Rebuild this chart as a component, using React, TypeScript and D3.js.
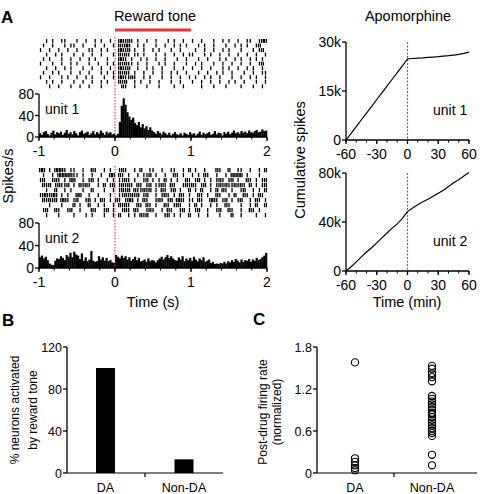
import React from 'react';
import * as d3 from 'd3';

const FONT = '"Liberation Sans", Arial, sans-serif';

// ---- panel A, left: rasters (one string per trial, 0.04 s per char; '|' = 1 spike, ':' = 2 spikes)
const unit1Raster = [
  '  | |  ||   |  |  | |  | ' + ' ::|:| |  |  |   | |  |  ' + '|  |   |  | |  |  ||  |::',
  ' |  |   | ||  |   |  |  |' + ' :|::  | |   |  |  | | | ' + '  | |  |   |  | | |  |: ',
  '|  |  |  |  |   ||  | |  ' + ' ::|: |  |  | |   |  |   ' + ' |  |  |  | |   |   | |:',
  '  |  | |   |  |  |  |   |' + ' :|:| || |   |  |  |  | |' + '|   | |  |  |  |  |  |  |',
  ' | |   |  |  |  | |   |  ' + ' ::| |  | |  |  |   |  | ' + '  |  |   | |  | |  | | | ',
  '|   |  |  | |   |  |  | |' + ' :|:|| |  |   | |  |   | ' + ' | |   |  |  |  |  |  |: ',
  '  |  |  | |   |  |  |  | ' + ' ::|:  |  | |  |   |  |  ' + '|  |  |   | |  |  | |  | ',
  ' |  | |   |  |  |   | | |' + ' :|:| |  |  |  |  | |  | ' + '  |  |  | |  |   |  |  ||',
  '|  |   | |  |  | |   |  |' + ' ::||:|  | |   |  |  |  |' + ' |  | |  |   |  |  | |  |',
  '  | |  |   |  |  |  | |  ' + ' :|:  | |  |  |   |  |   ' + '|  |  |  |  | |  |   |  |',
  '   |  |   |  |  |   |    ' + '  :|  |   |   |    |  |  ' + '   |   |   |    |   |  | ',
];

const unit2Raster = [
  ':: | :::| ||  |  :|  | | ' + ' |:|  | :  ||  |  ||  | : ' + '|  |   :|  :  ||  |  | :|',
  ' |  | :::::|| |  |  |  :: ' + ':| |  | ||: |  |  :| |  |' + ' | :|  |  | :::: |   |  :',
  '|:  |:| | ::  | |: |  | | ' + '||:| |  |: | | : | |  :| ' + '|: | | |:| |: |  :| | |: ',
  ' :|: |:||: | :|:|  | : |:' + ' |:|:| :| |: ||:| :|  |:|' + ':| |: | |:|:||:|:| : | |:',
  '  |  :  | |   |  :   |  |' + ' |:|: :||:|: | :| |: |  :' + ' | :  | : :| |  |:  | | :',
  '|::|:: | |  ::  |  |   | ' + ' ||:|:|: |:  | |:| | :| |' + '  :| |  :|  | :  :| | :| ',
  ' :|:|: ::| |:  |: | :| | ' + ':| |:: | :|  |:| |: ::| |' + '| :|  ::| |: | |:  | :| |',
  '   |   |   : |  :  | |  |' + ' :|:|  :| :| |  :| |:|  |' + ' : |  | |  :|   |  | :  :',
  ' |:  :|  |:  |   :|  |: |' + '  |:| :|  |:|  | :|  |: |' + ' |:  |  |:  :|  |  :| |  ',
  '  |   |    |   | |   |  |' + ' :  | | :|:  |  |: | |  :' + '  |  |   |   :  |    |  |',
];

// ---- peri-stimulus histograms, spikes/s, 0.025 s bins from -1 to 2 s
const histBin = 0.025;
const unit1Hist = [
  7, 4, 9, 11, 6, 3, 8, 12, 5, 9, 7, 10, 4, 8, 13, 6, 9, 5, 11, 7, 3, 9, 12, 6, 8, 10, 4, 7, 11, 5, 9, 6, 12, 8, 4, 10, 7, 9, 5, 6,
  3, 6, 28, 58, 72, 60, 46, 38, 32, 36, 26, 22, 28, 18, 24, 16, 20, 13, 18, 12,
  9, 6, 11, 8, 5, 10, 7, 4, 8, 3, 6, 9, 5, 4, 7, 3, 8, 6, 4, 9, 5, 7, 3, 6, 10, 4, 8, 5, 7, 9,
  4, 6, 11, 5, 8, 7, 3, 9, 6, 10, 5, 8, 12, 7, 9, 6, 11, 8, 10, 7, 12, 9, 8, 11, 13, 9, 10, 14, 11, 12,
];
const unit2Hist = [
  19, 22, 17, 20, 14, 8, 6, 5, 13, 17, 16, 21, 18, 14, 23, 20, 27, 19, 29, 24, 22, 16, 26, 13, 19, 12, 15, 30, 13, 11, 12, 21, 15, 19, 13, 18, 12, 14, 10, 9,
  23, 20, 17, 22, 18, 21, 15, 19, 13, 16, 20, 14, 18, 12, 13, 15, 11, 17, 12, 14, 13, 10, 14, 17, 20, 15, 19, 23, 18, 21, 17, 14, 13, 19, 15, 21, 12, 17, 14, 18,
  13, 20, 15, 12, 17, 14, 19, 11, 13, 15, 9, 11, 7, 8, 7, 9, 8, 11, 8, 12, 10, 14, 11, 16, 13, 10, 15, 11, 14, 13, 16, 11, 15, 13, 18, 14, 16, 19, 22, 27,
];
const timeTicks = [-1, 0, 1, 2];
const histTicks = [0, 40, 80];

// ---- panel A, right: cumulative spikes (every 5 min)
const minutes = [-60, -55, -50, -45, -40, -35, -30, -25, -20, -15, -10, -5, 0, 5, 10, 15, 20, 25, 30, 35, 40, 45, 50, 55, 60];
const unit1Cum = [0, 2050, 4100, 6200, 8250, 10300, 12400, 14450, 16500, 18600, 20650, 22700, 24800, 24950, 25050, 25150, 25300, 25400, 25500, 25650, 25800, 26000, 26200, 26500, 26900];
const unit2Cum = [0, 3500, 7500, 11500, 15500, 19000, 23000, 27000, 31000, 35000, 38500, 43000, 48500, 51500, 54000, 56500, 58500, 61000, 63500, 66000, 69000, 72000, 74500, 77500, 80500];
const minuteTicks = [-60, -30, 0, 30, 60];
const cum1Ticks = [0, 15000, 30000];
const cum2Ticks = [0, 40000, 80000];

// ---- panels B and C
const categories = ['DA', 'Non-DA'];
const activatedPct = [100, 13];
const pctTicks = [0, 40, 80, 120];
const daRates = [1.58, 0.21, 0.16, 0.11, 0.07, 0.04];
const nonDaRates = [1.53, 1.49, 1.43, 1.41, 1.37, 1.31, 1.1, 1.06, 1.02, 0.98, 0.94, 0.9, 0.86, 0.84, 0.8, 0.76, 0.72, 0.68, 0.64, 0.6, 0.57, 0.53, 0.26, 0.11];
const rateTicks = [0, 0.6, 1.2, 1.8];

const RED = '#e8343a';
const xTime = d3.scaleLinear().domain([-1, 2]).range([39, 267]);
const xMin = d3.scaleLinear().domain([-60, 60]).range([346, 469]);

function spikesOf(row: string) {
  const out: number[] = [];
  row.slice(0, 75).split('').forEach((c, i) => {
    const t = -1 + (i + 0.5) * 0.04;
    if (c === '|') out.push(t);
    if (c === ':') out.push(t - 0.012, t + 0.012);
  });
  return out;
}

function XAxis({ x, y, ticks, minor, fs = 14 }: any) {
  const [a, b] = x.range();
  return (
    <g>
      <line x1={a} x2={b} y1={y} y2={y} stroke="#000" strokeWidth={1.3} />
      {minor.map((d: number, i: number) => (
        <line key={'m' + i} x1={x(d)} x2={x(d)} y1={y} y2={y + 2.5} stroke="#000" strokeWidth={1} />
      ))}
      {ticks.map((d: number) => (
        <g key={d}>
          <line x1={x(d)} x2={x(d)} y1={y} y2={y + 4} stroke="#000" strokeWidth={1.3} />
          <text x={x(d)} y={y + 19} textAnchor="middle" fontSize={fs}>{d}</text>
        </g>
      ))}
    </g>
  );
}

function YAxis({ y, x, ticks, fmt, fs = 14 }: any) {
  const [a, b] = y.range();
  return (
    <g>
      <line x1={x} x2={x} y1={a} y2={b} stroke="#000" strokeWidth={1.3} />
      {ticks.map((d: number) => (
        <g key={d}>
          <line x1={x - 4} x2={x} y1={y(d)} y2={y(d)} stroke="#000" strokeWidth={1.3} />
          <text x={x - 5} y={y(d) + fs * 0.36} textAnchor="end" fontSize={fs}>{fmt(d)}</text>
        </g>
      ))}
    </g>
  );
}

function RasterHist({ raster, hist, rTop, rBottom, hTop, hBottom, label }: any) {
  const yRow = d3.scaleBand<number>().domain(d3.range(raster.length)).range([rTop, rBottom]);
  const yHist = d3.scaleLinear().domain([0, 80]).range([hBottom, hTop]);
  const minor = d3.range(-1, 2.001, 0.2);
  return (
    <g>
      {raster.map((row: string, r: number) =>
        spikesOf(row).map((t, i) => (
          <line key={r + '-' + i} x1={xTime(t)} x2={xTime(t)} y1={yRow(r)!} y2={yRow(r)! + yRow.bandwidth() * 0.85}
            stroke="#000" strokeWidth={1.3} />
        ))
      )}
      {hist.map((v: number, i: number) => {
        const t0 = -1 + i * histBin;
        return (
          <rect key={'h' + i} x={xTime(t0)} width={xTime(t0 + histBin) - xTime(t0) + 0.3}
            y={yHist(v)} height={hBottom - yHist(v)} fill="#000" />
        );
      })}
      <line x1={xTime(0)} x2={xTime(0)} y1={rTop - 2} y2={hBottom} stroke={RED} strokeWidth={1.1} strokeDasharray="1.5,1.5" />
      <YAxis y={yHist} x={39} ticks={histTicks} fmt={(d: number) => d} />
      <XAxis x={xTime} y={hBottom} ticks={timeTicks} minor={minor} />
      <text x={45} y={hTop + 20} fontSize={14}>{label}</text>
    </g>
  );
}

function CumPanel({ values, yMax, top, bottom, ticks, label }: any) {
  const y = d3.scaleLinear().domain([0, yMax]).range([bottom, top]);
  const line = d3.line<number>().x((_, i) => xMin(minutes[i])).y((d) => y(d));
  return (
    <g>
      <line x1={xMin(0)} x2={xMin(0)} y1={top} y2={bottom} stroke={RED} strokeWidth={1.2} strokeDasharray="2,1.5" />
      <path d={line(values)!} fill="none" stroke="#000" strokeWidth={1.2} />
      <YAxis y={y} x={346} ticks={ticks} fmt={(d: number) => (d === 0 ? '0' : d / 1000 + 'k')} />
      <XAxis x={xMin} y={bottom} ticks={minuteTicks} minor={d3.range(-60, 61, 10)} />
      <text x={433} y={top + 73} fontSize={14}>{label}</text>
    </g>
  );
}

export default function App() {
  const yPct = d3.scaleLinear().domain([0, 120]).range([473, 347]);
  const xBar = d3.scalePoint<string>().domain(categories).range([105.5, 184]);
  const yRate = d3.scaleLinear().domain([0, 1.8]).range([473, 347]);
  const xDot = d3.scalePoint<string>().domain(categories).range([355, 432]);
  const rateGroups = [daRates, nonDaRates];

  return (
    <svg width={482} height={494} style={{ position: 'absolute', left: 0, top: 0, background: '#fff' }}
      fontFamily={FONT} fill="#000">
      {/* panel A */}
      <text x={1} y={23} fontSize={17} fontWeight="bold">A</text>
      <text x={155} y={21} textAnchor="middle" fontSize={14.5}>Reward tone</text>
      <line x1={xTime(0)} x2={xTime(1)} y1={30} y2={30} stroke={RED} strokeWidth={3} />
      <RasterHist raster={unit1Raster} hist={unit1Hist} rTop={39} rBottom={89} hTop={94} hBottom={137} label="unit 1" />
      <RasterHist raster={unit2Raster} hist={unit2Hist} rTop={168} rBottom={218} hTop={223} hBottom={268} label="unit 2" />
      <text transform="translate(13,176) rotate(-90)" textAnchor="middle" fontSize={14.5}>Spikes/s</text>
      <text x={153} y={307} textAnchor="middle" fontSize={14.5}>Time (s)</text>

      <text x={408} y={21} textAnchor="middle" fontSize={14.5}>Apomorphine</text>
      <CumPanel values={unit1Cum} yMax={30000} top={42} bottom={140} ticks={cum1Ticks} label="unit 1" />
      <CumPanel values={unit2Cum} yMax={80000} top={173} bottom={271} ticks={cum2Ticks} label="unit 2" />
      <text transform="translate(305,160) rotate(-90)" textAnchor="middle" fontSize={14.5}>Cumulative spikes</text>
      <text x={407} y={307} textAnchor="middle" fontSize={14.5}>Time (min)</text>

      {/* panel B */}
      <text x={2} y={326} fontSize={17} fontWeight="bold">B</text>
      {activatedPct.map((v, i) => (
        <rect key={i} x={xBar(categories[i])! - 9.5} width={19} y={yPct(v)} height={473 - yPct(v)} fill="#000" />
      ))}
      <line x1={67} x2={223} y1={473} y2={473} stroke="#000" strokeWidth={1.2} />
      <line x1={145} x2={145} y1={473} y2={477} stroke="#000" strokeWidth={1.2} />
      <YAxis y={yPct} x={67} ticks={pctTicks} fmt={(d: number) => d} fs={12.5} />
      {categories.map((c) => (
        <text key={c} x={xBar(c)} y={492} textAnchor="middle" fontSize={12.5}>{c}</text>
      ))}
      <text transform="translate(19,410) rotate(-90)" textAnchor="middle" fontSize={12}>% neurons activated</text>
      <text transform="translate(37,410) rotate(-90)" textAnchor="middle" fontSize={12}>by reward tone</text>

      {/* panel C */}
      <text x={253} y={325} fontSize={17} fontWeight="bold">C</text>
      {rateGroups.map((g, gi) =>
        g.map((v, i) => (
          <circle key={gi + '-' + i} cx={xDot(categories[gi])} cy={yRate(v)} r={3.6} fill="none" stroke="#000" strokeWidth={1.1} />
        ))
      )}
      <line x1={317} x2={477} y1={473} y2={473} stroke="#000" strokeWidth={1.2} />
      <line x1={394} x2={394} y1={473} y2={477} stroke="#000" strokeWidth={1.2} />
      <YAxis y={yRate} x={317} ticks={rateTicks} fmt={(d: number) => (d === 0 ? '0' : d.toFixed(1))} fs={12.5} />
      {categories.map((c) => (
        <text key={c} x={xDot(c)} y={492} textAnchor="middle" fontSize={12.5}>{c}</text>
      ))}
      <text transform="translate(267,412) rotate(-90)" textAnchor="middle" fontSize={12}>Post-drug firing rate</text>
      <text transform="translate(281,412) rotate(-90)" textAnchor="middle" fontSize={12}>(normalized)</text>
    </svg>
  );
}
